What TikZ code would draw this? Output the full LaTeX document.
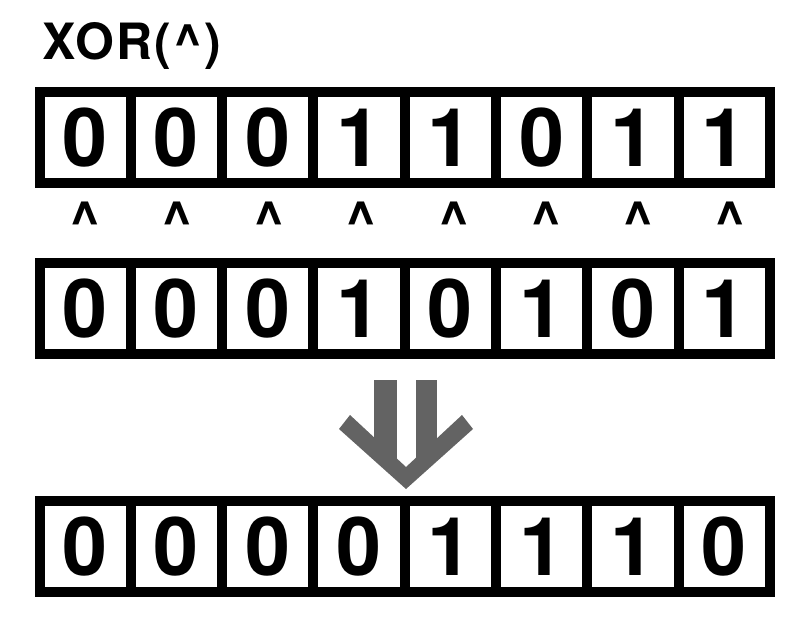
\documentclass[tikz,border=0pt]{standalone}
\usepackage{fontspec}
\setmainfont{TeX Gyre Heros}
\definecolor{arrowgray}{HTML}{636363}
\begin{document}
\begin{tikzpicture}[x=1pt,y=-1pt,
  cellbox/.style={draw=black, line width=10pt, minimum width=91.3pt, minimum height=91pt, inner sep=0pt, outer sep=0pt, font=\fontsize{81}{81}\selectfont\bfseries},
  caretmark/.style={anchor=base, inner sep=0pt, font=\fontsize{54}{54}\selectfont\bfseries},
  titletext/.style={anchor=base west, inner sep=0pt, font=\fontsize{50}{50}\selectfont\bfseries\addfontfeature{LetterSpace=4}},
  arrowfill/.style={fill=arrowgray, draw=none}]
\useasboundingbox (0,0) rectangle (800,620);
\node[titletext] (title) at (42,60) {XOR(\textasciicircum)};
\foreach \d [count=\i from 0] in {0,0,0,1,1,0,1,1}
  \node[cellbox] (a\i) at ({85.15+91.3*\i},137.5) {\d};
\foreach \i in {0,...,7}
  \node[caretmark] (op\i) at ({85+92.2*\i},240) {\textasciicircum};
\foreach \d [count=\i from 0] in {0,0,0,1,0,1,0,1}
  \node[cellbox] (b\i) at ({85.15+91.3*\i},308.5) {\d};
\foreach \d [count=\i from 0] in {0,0,0,0,1,1,1,0}
  \node[cellbox] (c\i) at ({85.15+91.3*\i},546.5) {\d};
% result arrow
\fill[arrowfill] (350,415) -- (406,467) -- (462,415) -- (473,429) -- (406,489) -- (339,429) -- cycle;
\fill[arrowfill] (374,380) rectangle (397,460);
\fill[arrowfill] (416,380) rectangle (437,460);
\end{tikzpicture}
\end{document}
